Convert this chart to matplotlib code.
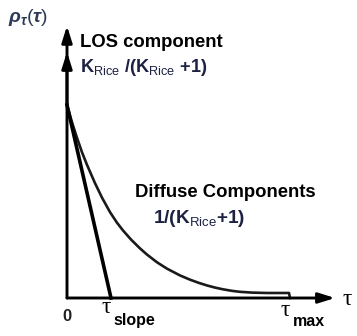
import matplotlib
matplotlib.use("Agg")
import matplotlib.pyplot as plt

plt.rcParams.update({
    "font.family": ["Liberation Sans", "DejaVu Sans"],
    "mathtext.fontset": "custom",
    "mathtext.rm": "Liberation Sans",
    "mathtext.bf": "Liberation Sans:bold",
    "mathtext.it": "Liberation Sans:italic:bold",
})

# ── data (tau in px-like units from the origin, rho normalised to the LOS peak) ──
TAU = [0, 5, 10, 15, 20, 28, 35, 43, 50, 56, 64, 73, 80, 90, 100, 113, 123,
       132, 140, 148, 156, 165, 173, 185, 200, 222, 223]
RHO_DIFFUSE = [1.0, 0.91, 0.83, 0.755, 0.69, 0.595, 0.52, 0.445, 0.39, 0.35,
               0.303, 0.257, 0.225, 0.185, 0.152, 0.117, 0.095, 0.078, 0.065,
               0.054, 0.045, 0.037, 0.032, 0.028, 0.026, 0.026, 0.0]
TAU_SLOPE = 44
TAU_MAX = 223
RHO_TOP = 1.41       # tip of the vertical axis arrow
RHO_LOS = 1.275      # LOS arrow head
TAU_END = 268        # tip of the horizontal axis arrow

W, H = 357, 336
NAVY = "#1d2142"


def fx(px):
    return px / W


def fy(py):
    return 1 - py / H


fig = plt.figure(figsize=(W / 100, H / 100), dpi=100)
ax = fig.add_axes([fx(67), fy(298), 290 / W, 298 / H])
ax.set_xlim(0, 290)
ax.set_ylim(0, 298 / 193)
ax.axis("off")

# axes arrows
arrow = dict(arrowstyle="-|>,head_length=0.7,head_width=0.22", lw=2.1,
             color="black", mutation_scale=14, shrinkA=0, shrinkB=0)
ax.annotate("", xy=(0, RHO_TOP), xytext=(0, 0), arrowprops=arrow,
            annotation_clip=False)
ax.annotate("", xy=(0, RHO_LOS), xytext=(0, 1.0), arrowprops=arrow,
            annotation_clip=False)
ax.annotate("", xy=(TAU_END, 0), xytext=(0, 0), arrowprops=arrow,
            annotation_clip=False)

# diffuse decay and the slope tangent
ax.plot(TAU, RHO_DIFFUSE, color="#1a1a1a", lw=1.9, clip_on=False,
        solid_joinstyle="round")
ax.plot([0, TAU_SLOPE], [1.0, 0.0], color="black", lw=2.6, clip_on=False)

# labels
fig.text(fx(8), fy(17), r"$\rho_{\tau}(\tau)$", fontsize=14, color="#2e3b58",
         ha="left", va="center")
fig.text(fx(80), fy(47), "LOS component", fontsize=13.3, fontweight="bold",
         ha="left", va="baseline")
fig.text(fx(80), fy(72), r"K$_{\rm Rice}$ /(K$_{\rm Rice}$ +1)", fontsize=13.1,
         fontweight="bold", color=NAVY, ha="left", va="baseline")
fig.text(fx(135), fy(197), "Diffuse Components", fontsize=13.3,
         fontweight="bold", ha="left", va="baseline")
fig.text(fx(153), fy(223), r"1/(K$_{\rm Rice}$+1)", fontsize=13.7,
         fontweight="bold", color=NAVY, ha="left", va="baseline")

fig.text(fx(67), fy(321), "0", fontsize=12, fontweight="bold", color="#222222",
         ha="center", va="baseline")
fig.text(fx(102), fy(313), "τ", fontsize=17, family="Liberation Serif",
         ha="left", va="baseline")
fig.text(fx(113), fy(325), "slope", fontsize=11.5, fontweight="bold",
         ha="left", va="baseline")
fig.text(fx(281), fy(316), "τ", fontsize=17, family="Liberation Serif",
         ha="left", va="baseline")
fig.text(fx(293), fy(326), "max", fontsize=11.5, fontweight="bold",
         ha="left", va="baseline")
fig.text(fx(343), fy(305), "τ", fontsize=17, family="Liberation Serif",
         ha="left", va="baseline")

fig.savefig("out.png", dpi=100)
